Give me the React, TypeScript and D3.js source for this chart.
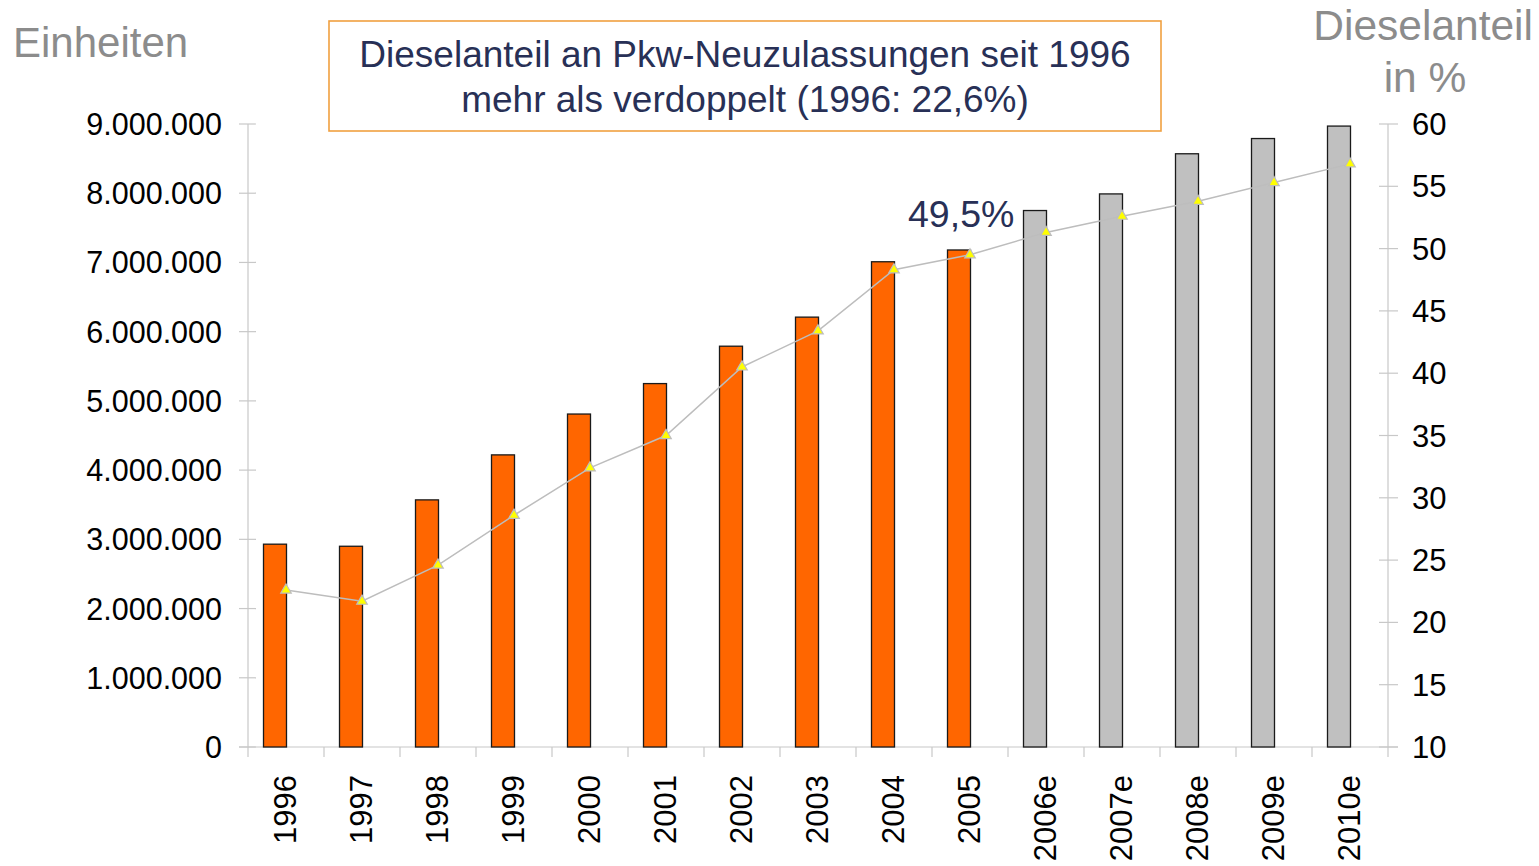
import { useEffect, useRef } from 'react';
import * as d3 from 'd3';

const years = ['1996', '1997', '1998', '1999', '2000', '2001', '2002', '2003', '2004', '2005', '2006e', '2007e', '2008e', '2009e', '2010e'];
const units = [2930000, 2900000, 3570000, 4220000, 4810000, 5250000, 5790000, 6210000, 7010000, 7180000, 7750000, 7990000, 8570000, 8790000, 8970000];
const dieselShare = [22.6, 21.7, 24.6, 28.6, 32.4, 35.0, 40.5, 43.4, 48.3, 49.5, 51.3, 52.6, 53.8, 55.3, 56.8];
const leftTicks = [0, 1000000, 2000000, 3000000, 4000000, 5000000, 6000000, 7000000, 8000000, 9000000];
const rightTicks = [10, 15, 20, 25, 30, 35, 40, 45, 50, 55, 60];

const FONT = 'Liberation Sans, Arial, Helvetica, sans-serif';

export default function App() {
  const svgRef = useRef<SVGSVGElement>(null);

  useEffect(() => {
    if (!svgRef.current) return;
    const svg = d3.select(svgRef.current);
    svg.selectAll('*').remove();

    const left = 248, right = 1388, top = 124, bottom = 747;

    const x = d3.scaleBand().domain(years).range([left, right]).paddingInner(0).paddingOuter(0);
    const y = d3.scaleLinear().domain([0, 9000000]).range([bottom, top]);
    const y2 = d3.scaleLinear().domain([10, 60]).range([bottom, top]);
    const barW = 23;
    const fmt = (v: number) => d3.format(',')(v).replace(/,/g, '.');

    const grey = '#c8c8c8';

    // left axis
    svg.append('line').attr('x1', left).attr('x2', left).attr('y1', top).attr('y2', bottom + 10)
      .attr('stroke', grey).attr('stroke-width', 1.2);
    const la = svg.append('g');
    la.selectAll('line').data(leftTicks).enter().append('line')
      .attr('x1', left - 9).attr('x2', left + 8)
      .attr('y1', d => y(d)).attr('y2', d => y(d))
      .attr('stroke', grey).attr('stroke-width', 1.2);
    la.selectAll('text').data(leftTicks).enter().append('text')
      .attr('x', 222).attr('y', d => y(d) + 11)
      .attr('text-anchor', 'end').attr('font-size', 30.5).attr('font-family', FONT).attr('fill', '#000')
      .text(d => fmt(d));

    // right axis
    svg.append('line').attr('x1', right).attr('x2', right).attr('y1', top).attr('y2', bottom + 10)
      .attr('stroke', grey).attr('stroke-width', 1.2);
    const ra = svg.append('g');
    ra.selectAll('line').data(rightTicks).enter().append('line')
      .attr('x1', right - 9).attr('x2', right + 10)
      .attr('y1', d => y2(d)).attr('y2', d => y2(d))
      .attr('stroke', grey).attr('stroke-width', 1.2);
    ra.selectAll('text').data(rightTicks).enter().append('text')
      .attr('x', 1412).attr('y', d => y2(d) + 11)
      .attr('text-anchor', 'start').attr('font-size', 31).attr('font-family', FONT).attr('fill', '#000')
      .text(d => String(d));

    // x axis
    svg.append('line').attr('x1', left - 9).attr('x2', right + 10).attr('y1', bottom).attr('y2', bottom)
      .attr('stroke', grey).attr('stroke-width', 1.2);
    svg.selectAll('.xtick').data(years.slice(1)).enter().append('line')
      .attr('x1', d => x(d)!).attr('x2', d => x(d)!)
      .attr('y1', bottom).attr('y2', bottom + 10)
      .attr('stroke', grey).attr('stroke-width', 1.2);

    svg.selectAll('.xlab').data(years).enter().append('text')
      .attr('transform', d => `translate(${x(d)! + x.bandwidth() / 2 + 10},775) rotate(-90)`)
      .attr('text-anchor', 'end').attr('font-size', 31).attr('font-family', FONT).attr('fill', '#000')
      .text(d => d);

    // bars (sit left of the band centre, as in the original)
    svg.selectAll('.bar').data(units).enter().append('rect')
      .attr('x', (d, i) => x(years[i])! + x.bandwidth() / 2 - 11 - barW / 2)
      .attr('y', d => y(d))
      .attr('width', barW)
      .attr('height', d => bottom - y(d))
      .attr('fill', (d, i) => (years[i].endsWith('e') ? '#c0c0c0' : '#ff6600'))
      .attr('stroke', '#1a1a1a').attr('stroke-width', 1.3);

    // line
    const cx = (i: number) => x(years[i])! + x.bandwidth() / 2;
    const line = d3.line<number>().x((d, i) => cx(i)).y(d => y2(d));
    svg.append('path').datum(dieselShare).attr('d', line)
      .attr('fill', 'none').attr('stroke', '#bdbdbd').attr('stroke-width', 1.5);
    const tri = d3.symbol().type(d3.symbolTriangle).size(48);
    svg.selectAll('.mk').data(dieselShare).enter().append('path')
      .attr('d', tri)
      .attr('transform', (d, i) => `translate(${cx(i)},${y2(d)})`)
      .attr('fill', '#ffff00').attr('stroke', '#bdbdbd').attr('stroke-width', 1.2);

    // annotation
    svg.append('text').attr('x', 908).attr('y', 227)
      .attr('font-size', 37.5).attr('font-family', FONT).attr('fill', '#283056')
      .text('49,5%');

    // title box
    svg.append('rect').attr('x', 329).attr('y', 21).attr('width', 832).attr('height', 110)
      .attr('fill', '#fff').attr('stroke', '#f0a040').attr('stroke-width', 1.6);
    const t = svg.append('text').attr('text-anchor', 'middle').attr('font-size', 37)
      .attr('font-family', FONT).attr('fill', '#283056');
    t.append('tspan').attr('x', 745).attr('y', 67).text('Dieselanteil an Pkw-Neuzulassungen seit 1996');
    t.append('tspan').attr('x', 745).attr('y', 112).text('mehr als verdoppelt (1996: 22,6%)');

    // axis titles
    svg.append('text').attr('x', 13).attr('y', 57).attr('font-size', 42)
      .attr('font-family', FONT).attr('fill', '#8c8c8c').text('Einheiten');
    svg.append('text').attr('x', 1533).attr('y', 40).attr('text-anchor', 'end').attr('font-size', 42.5)
      .attr('font-family', FONT).attr('fill', '#8c8c8c').text('Dieselanteil');
    svg.append('text').attr('x', 1425).attr('y', 92).attr('text-anchor', 'middle').attr('font-size', 42.5)
      .attr('font-family', FONT).attr('fill', '#8c8c8c').text('in %');
  }, []);

  return (
    <svg ref={svgRef} width={1539} height={866}
      style={{ position: 'absolute', left: 0, top: 0, background: '#fff' }} />
  );
}
